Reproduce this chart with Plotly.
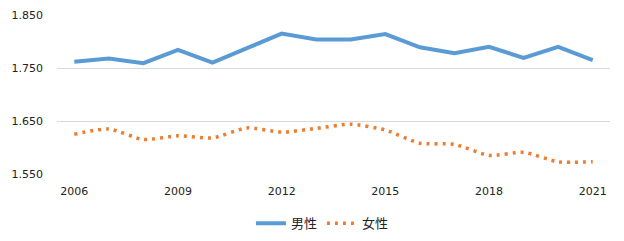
import plotly.graph_objects as go

years = list(range(2006, 2022))
male = [1.762, 1.768, 1.759, 1.784, 1.760, 1.788, 1.815, 1.804, 1.804, 1.814,
        1.789, 1.778, 1.790, 1.769, 1.790, 1.765]
female = [1.625, 1.635, 1.615, 1.622, 1.618, 1.637, 1.629, 1.636, 1.644, 1.633,
          1.608, 1.606, 1.585, 1.591, 1.573, 1.573]
x_ticks = [2006, 2009, 2012, 2015, 2018, 2021]
y_ticks = [1.55, 1.65, 1.75, 1.85]
y_labels = ["1.550", "1.650", "1.750", "1.850"]

fig = go.Figure()
fig.add_trace(go.Scatter(x=years, y=male, name="男性", mode="lines",
                         line=dict(color="#5B9BD5", width=4)))
fig.add_trace(go.Scatter(x=years, y=female, name="女性", mode="lines",
                         line=dict(color="#ED7D31", width=3.5, shape="spline",
                                   smoothing=0.6, dash="3px,5px")))

fig.update_layout(
    width=624, height=241,
    margin=dict(l=57, r=14, t=15, b=67, autoexpand=False),
    paper_bgcolor="white", plot_bgcolor="white",
    font=dict(family="DejaVu Sans", size=11, color="#222222"),
    showlegend=True,
    legend=dict(orientation="h", x=0.48, xanchor="center", y=-0.215, yanchor="top",
                font=dict(family="Noto Sans CJK JP", size=13, color="#222222"),
                itemwidth=30, traceorder="normal"),
    xaxis=dict(range=[2005.5, 2021.5], tickvals=x_ticks, ticktext=[str(v) for v in x_ticks],
               showgrid=False, zeroline=False, showline=False, ticks="",
               ticklabelstandoff=9),
    yaxis=dict(range=[1.55, 1.85], tickvals=y_ticks, ticktext=y_labels,
               showgrid=True, gridcolor="#D9D9D9", gridwidth=1, zeroline=False,
               showline=False, ticks="", ticklabelstandoff=13),
)

fig.write_html("out.html")
